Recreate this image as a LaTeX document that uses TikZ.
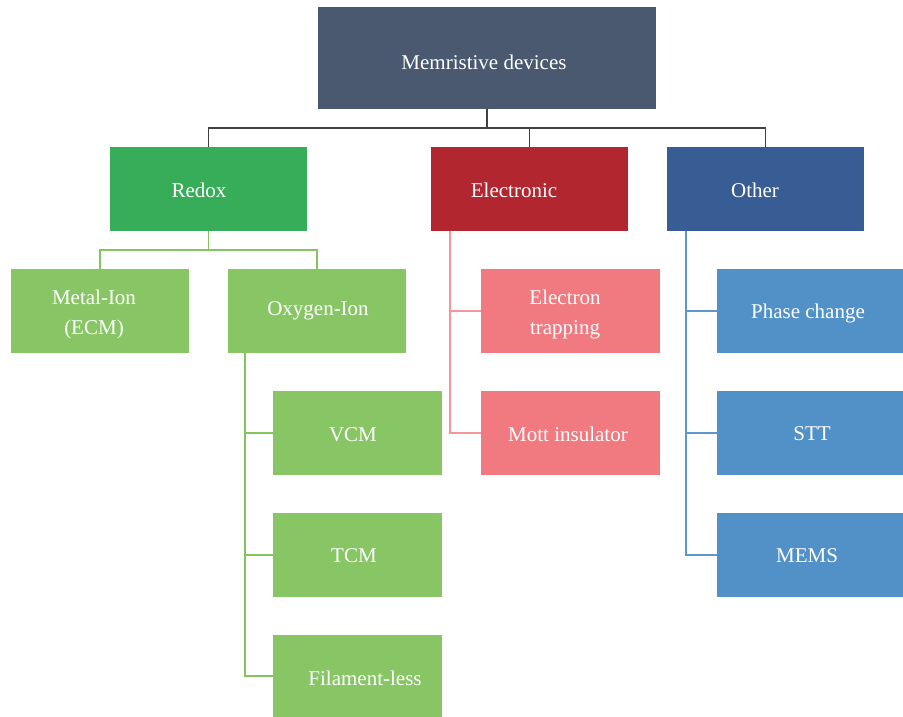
\documentclass[tikz,border=0pt]{standalone}
\usepackage{fontspec}
\setmainfont{Liberation Serif}
\definecolor{cTop}{HTML}{4A5870}
\definecolor{cRedox}{HTML}{37AD5A}
\definecolor{cElec}{HTML}{B2272F}
\definecolor{cOther}{HTML}{385C94}
\definecolor{cLGreen}{HTML}{88C665}
\definecolor{cPink}{HTML}{F07A80}
\definecolor{cLBlue}{HTML}{5291C8}
\definecolor{cLineTop}{HTML}{404040}
\definecolor{cLineGreen}{HTML}{86C462}
\definecolor{cLinePink}{HTML}{F3959A}
\definecolor{cLineBlue}{HTML}{5E97CB}
\begin{document}
\begin{tikzpicture}[x=1pt,y=-1pt,
  box/.style={rectangle,inner sep=0pt,outer sep=0pt,draw=none},
  lbl/.style={text=white,font=\fontsize{21}{30.5}\selectfont,align=center,inner sep=0pt},
  conn/.style={line width=1.6pt}]
\useasboundingbox[fill=white] (0,0) rectangle (903,717);
% boxes
\node[box,fill=cTop,minimum width=338pt,minimum height=102pt] (mem) at (487,58) {};
\node[box,fill=cRedox,minimum width=197pt,minimum height=84pt] (redox) at (208.5,189) {};
\node[box,fill=cElec,minimum width=197pt,minimum height=84pt] (elec) at (529.5,189) {};
\node[box,fill=cOther,minimum width=197pt,minimum height=84pt] (other) at (765.5,189) {};
\node[box,fill=cLGreen,minimum width=178pt,minimum height=84pt] (metal) at (100,311) {};
\node[box,fill=cLGreen,minimum width=178pt,minimum height=84pt] (oxy) at (317,311) {};
\node[box,fill=cLGreen,minimum width=169pt,minimum height=84pt] (vcm) at (357.5,433) {};
\node[box,fill=cLGreen,minimum width=169pt,minimum height=84pt] (tcm) at (357.5,555) {};
\node[box,fill=cLGreen,minimum width=169pt,minimum height=82pt] (fil) at (357.5,676) {};
\node[box,fill=cPink,minimum width=179pt,minimum height=84pt] (etrap) at (570.5,311) {};
\node[box,fill=cPink,minimum width=179pt,minimum height=84pt] (mott) at (570.5,433) {};
\node[box,fill=cLBlue,minimum width=186pt,minimum height=84pt] (phase) at (810,311) {};
\node[box,fill=cLBlue,minimum width=186pt,minimum height=84pt] (stt) at (810,433) {};
\node[box,fill=cLBlue,minimum width=186pt,minimum height=84pt] (mems) at (810,555) {};
% labels
\node[lbl] (tmem) at (484,62) {Memristive devices};
\node[lbl] (tredox) at (199,190) {Redox};
\node[lbl] (telec) at (514,190) {Electronic};
\node[lbl] (tother) at (755,190) {Other};
\node[lbl] (tmetal) at (94,314.5) {Metal-Ion\\(ECM)};
\node[lbl] (toxy) at (318,311) {Oxygen-Ion};
\node[lbl] (tvcm) at (353,435) {VCM};
\node[lbl] (ttcm) at (354,556) {TCM};
\node[lbl] (tfil) at (365,678) {Filament-less};
\node[lbl] (tetrap) at (565,314.5) {Electron\\trapping};
\node[lbl] (tmott) at (568,434) {Mott insulator};
\node[lbl] (tphase) at (808,313) {Phase change};
\node[lbl] (tstt) at (812,434) {STT};
\node[lbl] (tmems) at (807,556) {MEMS};
% top level connectors
\coordinate (tj) at (487,128);
\draw[conn,cLineTop] (mem.south) -- (tj);
\draw[conn,cLineTop] (redox.north) |- (tj) -| (other.north);
\draw[conn,cLineTop] (elec.north) -- (elec.north |- tj);
% redox connectors
\coordinate (rj) at (208.5,250);
\draw[conn,cLineGreen] (redox.south) -- (rj);
\draw[conn,cLineGreen] (metal.north) |- (rj) -| (oxy.north);
% oxygen-ion connectors
\coordinate (ob) at (245,353);
\draw[conn,cLineGreen] (ob) |- (fil.west);
\draw[conn,cLineGreen] (ob |- vcm.west) -- (vcm.west);
\draw[conn,cLineGreen] (ob |- tcm.west) -- (tcm.west);
% electronic connectors
\coordinate (eb) at (450,231);
\draw[conn,cLinePink] (eb) |- (mott.west);
\draw[conn,cLinePink] (eb |- etrap.west) -- (etrap.west);
% other connectors
\coordinate (xb) at (686,231);
\draw[conn,cLineBlue] (xb) |- (mems.west);
\draw[conn,cLineBlue] (xb |- phase.west) -- (phase.west);
\draw[conn,cLineBlue] (xb |- stt.west) -- (stt.west);
\end{tikzpicture}
\end{document}
